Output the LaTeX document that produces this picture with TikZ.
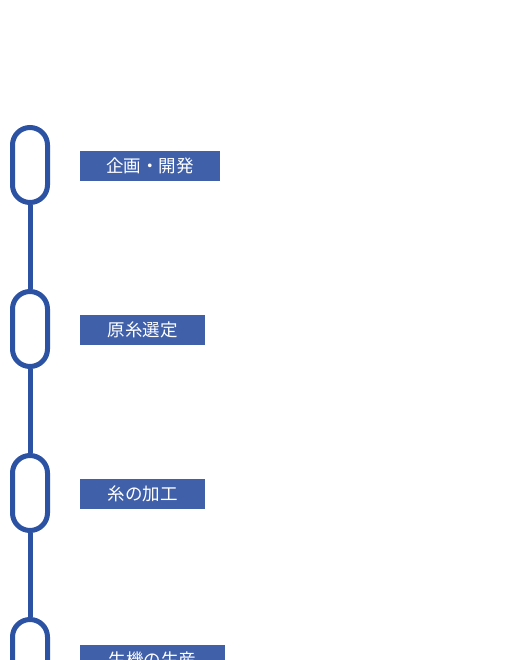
\documentclass[tikz,border=0pt]{standalone}
\usepackage{fontspec}
\newfontfamily\jp{Noto Sans CJK JP}
\definecolor{lineblue}{RGB}{43,82,163}
\definecolor{boxblue}{RGB}{64,96,170}
\begin{document}
\begin{tikzpicture}[x=1pt,y=-1pt,
  capsule/.style={draw=lineblue,line width=5pt,minimum width=35pt,minimum height=75pt,inner sep=0pt,rounded corners=17.5pt},
  link/.style={draw=lineblue,line width=5pt},
  label/.style={fill=boxblue,text=white,minimum height=30pt,inner sep=0pt,font=\jp\fontsize{17.5}{20}\selectfont}]
\useasboundingbox (0,0) rectangle (520,660);
\clip (0,0) rectangle (520,660);
\node[capsule] (c1) at (30,165) {};
\node[capsule] (c2) at (30,329) {};
\node[capsule] (c3) at (30,493) {};
\node[capsule] (c4) at (30,657) {};
\draw[link] (c1.south) -- (c2.north);
\draw[link] (c2.south) -- (c3.north);
\draw[link] (c3.south) -- (c4.north);
\node[label,minimum width=140pt] (l1) at (150,166) {企画・開発};
\node[label,minimum width=125pt] (l2) at (142.5,330) {原糸選定};
\node[label,minimum width=125pt] (l3) at (142.5,494) {糸の加工};
\node[label,minimum width=145pt] (l4) at (152.5,660) {生機の生産};
\end{tikzpicture}
\end{document}
